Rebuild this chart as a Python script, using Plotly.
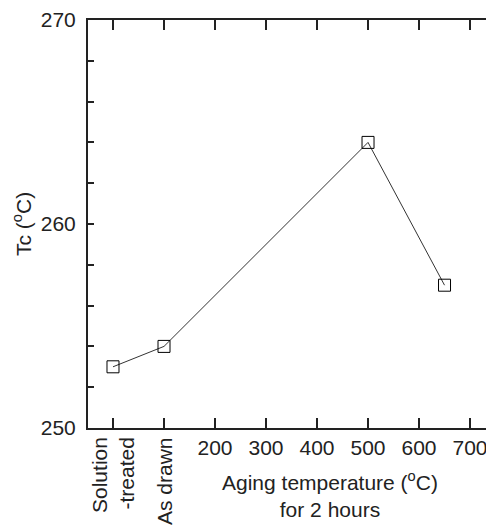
import plotly.graph_objects as go

# Data
x_pos = [0, 100, 500, 650]
tc_values = [253, 254, 264, 257]
x_tick_vals = [0, 100, 200, 300, 400, 500, 600, 700]
x_tick_text = ["", "", "200", "300", "400", "500", "600", "700"]
cat_labels = ["Solution<br>-treated", "As drawn"]
cat_pos = [0, 100]
y_tick_vals = list(range(250, 271, 2))
y_tick_text = [str(v) if v % 10 == 0 else "" for v in y_tick_vals]

FONT = "Liberation Sans, Arial, sans-serif"
FS = 21
INK = "#222222"

fig = go.Figure()
fig.add_trace(go.Scatter(
    x=x_pos, y=tc_values, mode="lines+markers",
    line=dict(color="#333333", width=1),
    marker=dict(symbol="square-open", size=12, color="black", line=dict(width=1)),
    showlegend=False, cliponaxis=False,
))
# invisible trace for right-side ticks axis
fig.add_trace(go.Scatter(x=[x_pos[0]], y=[tc_values[0]], yaxis="y2", mode="markers",
                         marker=dict(opacity=0), showlegend=False, hoverinfo="skip"))

# page body has an 8px default margin: figure is sized to fit the window
fig.update_layout(
    width=486, height=519,
    margin=dict(l=80, r=0, t=12, b=99, autoexpand=False),
    plot_bgcolor="white", paper_bgcolor="white",
    font=dict(family=FONT, size=FS, color=INK),
    xaxis=dict(range=[-49, 747], tickvals=x_tick_vals, ticktext=x_tick_text,
               ticks="inside", ticklen=10, tickwidth=2, tickcolor=INK,
               showline=True, linewidth=2, linecolor=INK, mirror="ticks",
               showgrid=False, zeroline=False, ticklabelstandoff=0, automargin=False),
    yaxis=dict(range=[250, 270], tickvals=y_tick_vals, ticktext=y_tick_text,
               ticks="inside", ticklen=6, tickwidth=2, tickcolor=INK,
               showline=True, linewidth=2, linecolor=INK,
               showgrid=False, zeroline=False, ticklabelstandoff=6, automargin=False),
    yaxis2=dict(range=[250, 270], overlaying="y", side="right", tickvals=y_tick_vals,
                ticktext=[""] * len(y_tick_vals), ticks="inside", ticklen=6, tickwidth=2,
                tickcolor=INK, showline=False, showgrid=False, zeroline=False,
                showticklabels=False, automargin=False),
)

for lab, xp in zip(cat_labels, cat_pos):
    fig.add_annotation(x=xp, xref="x", y=0, yref="paper", yshift=-7,
                       text=lab, textangle=-90, showarrow=False,
                       xanchor="center", yanchor="top", align="right",
                       font=dict(family=FONT, size=FS, color=INK))

fig.add_annotation(x=425, xref="x", y=0, yref="paper", yshift=-38,
                   text="Aging temperature (<sup>o</sup>C)<br>for 2 hours",
                   showarrow=False, xanchor="center", yanchor="top",
                   font=dict(family=FONT, size=FS, color=INK))

fig.add_annotation(x=0, xref="paper", xshift=-66, y=0.5, yref="paper",
                   text="Tc (<sup>o</sup>C)", textangle=-90, showarrow=False,
                   xanchor="center", yanchor="middle",
                   font=dict(family=FONT, size=FS, color=INK))

fig.write_html("out.html")
